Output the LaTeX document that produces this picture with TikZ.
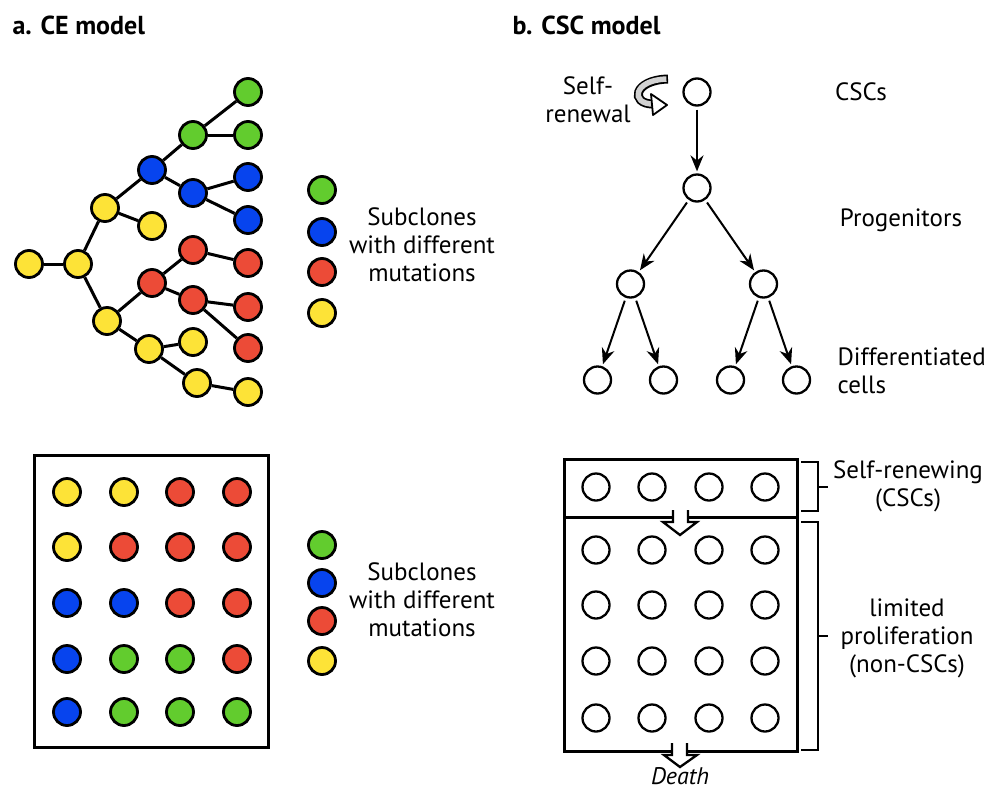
\documentclass[tikz,border=0pt]{standalone}
\usepackage{fontspec}
\setmainfont{PT Sans}
\usetikzlibrary{arrows.meta}
\definecolor{cegreen}{RGB}{98,204,46}
\definecolor{ceblue}{RGB}{7,68,238}
\definecolor{cered}{RGB}{236,75,55}
\definecolor{ceyellow}{RGB}{253,227,55}
\begin{document}
\begin{tikzpicture}[x=1pt,y=-1pt,
  cell/.style={circle,draw,line width=2.3pt,minimum size=27pt,inner sep=0pt,fill=white},
  clone/.style={cell,line width=2.8pt,fill=#1},
  txt/.style={font=\fontsize{25}{28}\selectfont,align=center},
  title/.style={font=\fontsize{26}{30}\selectfont\bfseries,anchor=west},
  level distance=96pt,
  level 2/.style={sibling distance=133pt},
  level 3/.style={sibling distance=66pt},
  edge from parent/.style={draw,line width=2pt,-{Stealth[length=16pt,width=13pt]},shorten <=3pt,shorten >=2pt},
  bracket/.style={line width=2.8pt}]
\useasboundingbox (0,0) rectangle (995,790);

\node[title] (ta) at (9,25) {a. CE model};
\node[title] (tb) at (509,25) {b. CSC model};

% CE model: clonal tree
\foreach \n/\x/\y/\c in {y1/29/264/ceyellow, y2/78/264/ceyellow, y3/105/208/ceyellow,
  y4/107/321/ceyellow, b1/152/170/ceblue, y5/152/226/ceyellow, g1/193/135/cegreen,
  b2/193/193/ceblue, g2/248/92/cegreen, g3/248/135/cegreen, b3/248/177/ceblue,
  b4/248/220/ceblue, r1/152/283/cered, r2/193/250/cered, r3/193/300/cered,
  r4/248/263/cered, r5/248/307/cered, r6/248/348/cered, y6/149/349/ceyellow,
  y7/193/342/ceyellow, y8/197/383/ceyellow, y9/248/392/ceyellow}
  \node[clone=\c] (\n) at (\x,\y) {};
\foreach \a/\b in {y1/y2, y2/y3, y2/y4, y3/b1, y3/y5, b1/g1, b1/b2, g1/g2, g1/g3,
  b2/b3, b2/b4, y4/r1, y4/y6, r1/r2, r1/r3, r2/r4, r3/r5, r3/r6, y6/y7, y6/y8, y8/y9}
  \draw[line width=3pt] (\a) -- (\b);

% legends
\foreach \y/\c [count=\i] in {190/cegreen, 232/ceblue, 272/cered, 313/ceyellow}
  \node[clone=\c] (la\i) at (322,\y) {};
\node[txt] (lta) at (422,245) {Subclones\\with different\\mutations};
\foreach \y/\c [count=\i] in {545/cegreen, 583/ceblue, 621/cered, 661/ceyellow}
  \node[clone=\c] (lb\i) at (322,\y) {};
\node[txt] (ltb) at (422,600) {Subclones\\with different\\mutations};

% CE model: tumour
\draw[line width=3pt] (34,455) rectangle (268,747);
\foreach \y [count=\r] in {492,547,603,659,712}
  \foreach \x [count=\k] in {67,124,180,237}
    \coordinate (ce\r\k) at (\x,\y);
\foreach \p/\c in {11/ceyellow, 12/ceyellow, 13/cered, 14/cered,
  21/ceyellow, 22/cered, 23/cered, 24/cered,
  31/ceblue, 32/ceblue, 33/cered, 34/cered,
  41/ceblue, 42/cegreen, 43/cegreen, 44/cered,
  51/ceblue, 52/cegreen, 53/cegreen, 54/cegreen}
  \node[clone=\c] (m\p) at (ce\p) {};

% CSC model: hierarchy
\node[cell] (csc) at (697,92) {}
  child {node[cell] (prog) {}
    child {node[cell] (pa) {}
      child {node[cell] (da) {}}
      child {node[cell] (db) {}}
    }
    child {node[cell] (pb) {}
      child {node[cell] (dc) {}}
      child {node[cell] (dd) {}}
    }
  };
\draw[line width=9pt] (668,79) .. controls (633,80) and (630,104) .. (653,104);
\draw[line width=5.5pt,gray!35,shorten <=1.6pt] (668,79) .. controls (633,80) and (630,104) .. (653,104);
\filldraw[fill=white,line width=1.8pt,line join=round] (651,94) -- (667,105) -- (653,115) -- cycle;
\node[txt] (sr) at (588,100) {Self-\\renewal};
\node[txt] (lcsc) at (861,92) {CSCs};
\node[txt] (lprog) at (901,220) {Progenitors};
\node[txt,align=left,anchor=west] (ldiff) at (834,371) {Differentiated\\cells};

% CSC model: tumour
\draw[line width=3pt] (564,459) rectangle (797,751);
\draw[line width=3pt] (564,517) -- (797,517);
\foreach \x [count=\k] in {596,652,709,765} {
  \node[cell] (s\k) at (\x,487) {};
  \foreach \y [count=\r] in {550,605,661,718}
    \node[cell] (n\r\k) at (\x,\y) {};
}
\fill[white] (673,510) -- (673,522) -- (663,522) -- (680,535) -- (697,522) -- (688,522) -- (688,510) -- cycle;
\draw[line width=2.3pt] (673,510) -- (673,522) -- (663,522) -- (680,535) -- (697,522) -- (688,522) -- (688,510);
\fill[white] (672,743) -- (672,755) -- (664,755) -- (680,767) -- (697,755) -- (687,755) -- (687,743) -- cycle;
\draw[line width=2.3pt] (672,743) -- (672,755) -- (664,755) -- (680,767) -- (697,755) -- (687,755) -- (687,743);
\node[font=\fontsize{24}{26}\selectfont\itshape,inner sep=1pt] (death) at (680,776) {Death};

\draw[bracket] (801,462) -| (818,511) -- (801,511);
\draw[bracket] (818,487) -- (828,487);
\node[txt] (lself) at (908,486) {Self-renewing\\(CSCs)};
\draw[bracket] (801,522) -| (818,750) -- (801,750);
\draw[bracket] (818,636) -- (828,636);
\node[txt] (llim) at (907,638) {limited\\proliferation\\(non-CSCs)};
\end{tikzpicture}
\end{document}
